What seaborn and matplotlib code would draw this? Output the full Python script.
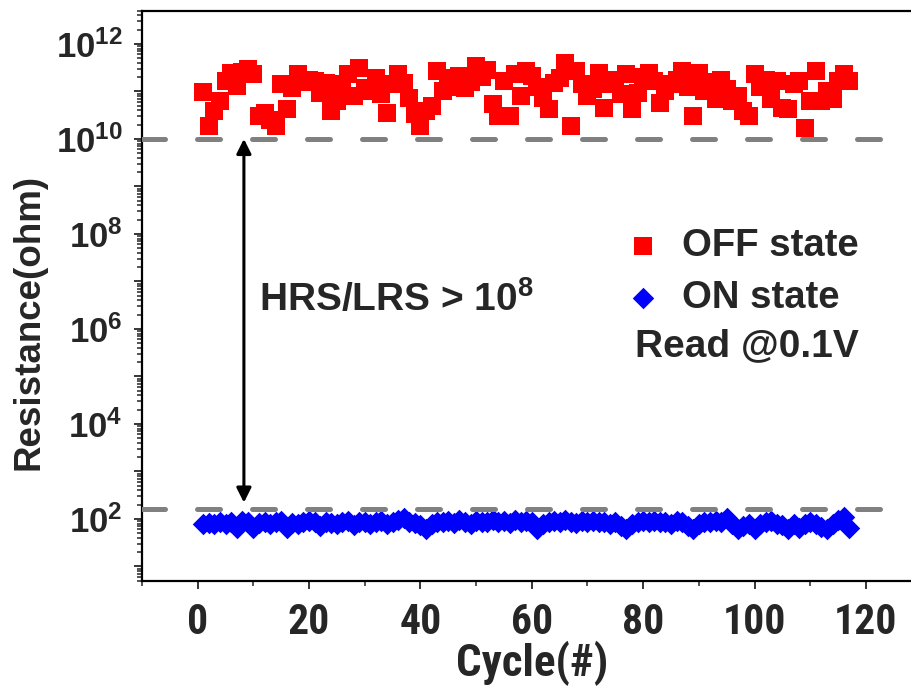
import numpy as np
import pandas as pd
import matplotlib
matplotlib.use("Agg")
import matplotlib.pyplot as plt
import matplotlib.ticker as mticker
from matplotlib import font_manager
import seaborn as sns

# Resistance (log10 of ohm) read at 0.1 V for each switching cycle
cycles = list(range(1, 118))
off_log = [
    10.99, 10.27, 10.59, 10.80, 11.22, 11.39, 11.11, 11.40, 11.47, 11.36,
    10.48, 10.55, 10.40, 10.27, 11.15, 10.62, 11.08, 11.36, 11.20, 11.25,
    11.22, 10.97, 11.18, 10.59, 10.80, 11.15, 11.36, 10.90, 11.50, 11.08,
    11.01, 11.29, 10.95, 10.55, 11.15, 11.36, 11.18, 10.87, 10.52, 10.27,
    10.59, 10.70, 11.43, 11.01, 11.29, 11.10, 11.32, 11.08, 11.20, 11.53,
    11.30, 11.46, 10.73, 10.48, 11.22, 10.48, 11.36, 10.90, 11.43, 11.32,
    11.10, 10.87, 10.62, 11.18, 11.29, 11.60, 10.27, 11.43, 11.15, 10.90,
    11.05, 11.39, 10.66, 11.15, 11.25, 10.95, 11.36, 10.62, 10.97, 11.30,
    11.39, 11.22, 10.76, 11.00, 11.15, 11.25, 11.43, 11.10, 10.48, 11.39,
    11.01, 11.20, 10.83, 11.25, 11.05, 10.80, 10.90, 10.59, 10.48, 11.36,
    11.10, 11.25, 10.83, 11.22, 10.66, 10.63, 11.15, 11.22, 10.24, 10.80,
    11.43, 10.80, 11.00, 10.83, 11.22, 11.36, 11.22,
]
on_ohm = [
    80, 82, 78, 85, 80, 88, 65, 90, 85, 65,
    82, 88, 80, 85, 90, 65, 82, 78, 86, 90,
    84, 70, 88, 82, 78, 86, 90, 75, 84, 88,
    80, 86, 92, 78, 84, 95, 105, 88, 82, 75,
    62, 80, 88, 84, 90, 82, 95, 86, 80, 92,
    88, 84, 95, 86, 90, 82, 96, 88, 92, 84,
    60, 80, 88, 92, 86, 95, 88, 82, 90, 86,
    92, 84, 88, 80, 86, 72, 62, 78, 84, 90,
    86, 92, 84, 88, 80, 90, 84, 70, 62, 80,
    88, 84, 92, 86, 105, 78, 62, 72, 80, 62,
    78, 84, 90, 80, 75, 62, 78, 64, 80, 85,
    78, 68, 62, 80, 95, 108, 65,
]
hrs_floor = 1e10      # lower bound of the OFF-state cluster
lrs_ceiling = 160     # upper bound of the ON-state cluster

df = pd.DataFrame({
    "Cycle": cycles * 2,
    "Resistance": [10 ** v for v in off_log] + on_ohm,
    "State": ["OFF state"] * len(cycles) + ["ON state"] * len(cycles),
})

sns.set_style("ticks")
plt.rcParams["font.family"] = ["Liberation Sans", "DejaVu Sans"]
plt.rcParams["font.weight"] = "bold"
plt.rcParams["mathtext.fontset"] = "custom"
plt.rcParams["mathtext.rm"] = "Liberation Sans:bold"
plt.rcParams["mathtext.bf"] = "Liberation Sans:bold"
plt.rcParams["mathtext.it"] = "Liberation Sans:bold:italic"

# a condensed face for the x axis, if one is installed
installed = {f.name for f in font_manager.fontManager.ttflist}
narrow = next((n for n in ("Liberation Sans Narrow", "Arial Narrow",
                           "DejaVu Sans Condensed", "Roboto Condensed",
                           "Open Sans Condensed") if n in installed), None)
x_family = [narrow, "Liberation Sans"] if narrow else ["Liberation Sans"]

W, H = 912, 689
fig = plt.figure(figsize=(W / 100, H / 100), dpi=100)
ax_l, ax_r, ax_t, ax_b = 142, 921.6, 10.7, 580.7
ax = fig.add_axes([ax_l / W, 1 - ax_b / H, (ax_r - ax_l) / W, (ax_b - ax_t) / H])

sns.scatterplot(data=df[df.State == "OFF state"], x="Cycle", y="Resistance",
                marker="s", color="#ff0000", s=160, linewidth=0,
                label="OFF state", ax=ax, zorder=2)
sns.scatterplot(data=df[df.State == "ON state"], x="Cycle", y="Resistance",
                marker="D", color="#0000ff", s=120, linewidth=0,
                label="ON state", ax=ax, zorder=2)

ax.set_yscale("log")
ax.set_xlim(-10, 130)
ax.set_ylim(5, 5e12)

for yv in (hrs_floor, lrs_ceiling):
    ax.axhline(yv, color="#808080", lw=3.6, dashes=(4.6, 6.4),
               dash_capstyle="round", zorder=3)

ax.annotate("", xy=(8.3, 220), xytext=(8.3, hrs_floor),
            arrowprops=dict(arrowstyle="<|-|>", color="black", lw=2.2,
                            mutation_scale=22, shrinkA=0, shrinkB=0),
            zorder=4)
ax.text(11.0, 2.45e6, r"HRS/LRS > $\mathregular{10^{8}}$", fontsize=28,
        fontweight="bold", va="baseline", ha="left")

# axes styling
for side in ("left", "bottom", "top", "right"):
    ax.spines[side].set_linewidth(1.6)
    ax.spines[side].set_color("black")

ax.xaxis.set_major_locator(mticker.MultipleLocator(20))
ax.xaxis.set_minor_locator(mticker.MultipleLocator(10))
ax.yaxis.set_major_locator(mticker.LogLocator(base=10, numticks=30))
ax.yaxis.set_minor_locator(mticker.LogLocator(base=10, subs=np.arange(2, 10), numticks=30))


def exp_label(v, pos):
    e = int(round(np.log10(v)))
    if e % 2 == 0 and e >= 2:
        return r"$\mathregular{10^{%d}}$" % e
    return ""


ax.yaxis.set_major_formatter(mticker.FuncFormatter(exp_label))
ax.yaxis.set_minor_formatter(mticker.NullFormatter())
ax.tick_params(axis="both", which="major", direction="out", length=6, width=1.3)
ax.tick_params(axis="both", which="minor", direction="out", length=3.5, width=1.1)
ax.tick_params(axis="y", labelsize=25, pad=8)
ax.tick_params(axis="x", labelsize=26 if not narrow else 30, pad=9)
for lab in ax.get_xticklabels():
    lab.set_family(x_family)
    lab.set_fontweight("bold")

ax.set_xlabel("Cycle(#)", fontsize=28 if not narrow else 32.5, fontweight="bold",
              family=x_family, labelpad=-1)
ax.set_ylabel("Resistance(ohm)", fontsize=26.5, fontweight="bold")
ax.yaxis.set_label_coords((46 - ax_l) / (ax_r - ax_l), (ax_b - 322) / (ax_b - ax_t))

leg = ax.legend(loc="upper left",
                bbox_to_anchor=((625 - ax_l) / (ax_r - ax_l), (ax_b - 228) / (ax_b - ax_t)),
                frameon=False, fontsize=27.5, handlelength=0.95, handletextpad=0.55,
                borderpad=0, borderaxespad=0, labelspacing=0.42, markerscale=1.0)
for t in leg.get_texts():
    t.set_fontweight("bold")

ax.text((635 - ax_l) / (ax_r - ax_l), (ax_b - 346) / (ax_b - ax_t), "Read @0.1V",
        transform=ax.transAxes, fontsize=28, fontweight="bold", va="center", ha="left")

fig.savefig("out.png", dpi=100)
